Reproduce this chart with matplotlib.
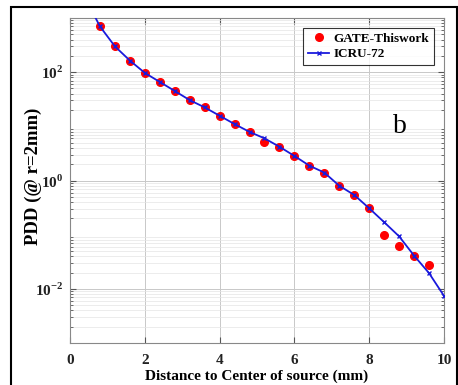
import matplotlib
matplotlib.use("Agg")
import matplotlib.pyplot as plt
from matplotlib.patches import Rectangle
from matplotlib.ticker import LogLocator, NullFormatter
import numpy as np

# Data
gate_x = [0.8, 1.2, 1.6, 2.0, 2.4, 2.8, 3.2, 3.6, 4.0, 4.4, 4.8, 5.2, 5.6, 6.0,
          6.4, 6.8, 7.2, 7.6, 8.0, 8.4, 8.8, 9.2, 9.6]
gate_y = [700, 300, 164, 97, 66, 45, 30.5, 22.4, 15.7, 11.0, 7.9, 5.2, 4.2, 2.84,
          1.88, 1.40, 0.80, 0.54, 0.307, 0.097, 0.061, 0.040, 0.0276]
icru_x = [0.6, 0.8, 1.2, 1.6, 2.0, 2.4, 2.8, 3.2, 3.6, 4.0, 4.4, 4.8, 5.2, 5.6,
          6.0, 6.4, 6.8, 7.2, 7.6, 8.0, 8.4, 8.8, 9.2, 9.6, 10.0]
icru_y = [1300, 700, 300, 164, 97, 66, 45, 30.5, 22.4, 15.7, 11.0, 7.9, 6.0, 4.2,
          2.84, 1.88, 1.40, 0.80, 0.54, 0.307, 0.17, 0.093, 0.041, 0.0195, 0.0074]
x_ticks = [0, 2, 4, 6, 8, 10]

W, H = 458, 385
fig = plt.figure(figsize=(W / 100, H / 100), dpi=100)
serif = ['Liberation Serif', 'DejaVu Serif']

# outer frame
fig.patches.append(Rectangle((11 / W, -0.05), (457 - 11) / W, (H - 7) / H + 0.05,
                             transform=fig.transFigure, fill=False,
                             edgecolor='black', linewidth=1.5))

ax = fig.add_axes([70 / W, 1 - 343 / H, (444 - 70) / W, (343 - 18) / H])
ax.set_yscale('log')
ax.set_xlim(0, 10)
ax.set_ylim(1e-3, 1e3)

ax.plot(icru_x, icru_y, color='#1a1adc', lw=1.3, marker='x', ms=3.5, mew=1.0,
        label='ICRU-72', zorder=3)
ax.plot(gate_x, gate_y, linestyle='none', marker='o', color='red', ms=5.5,
        label='GATE-Thiswork', zorder=2)

ax.set_xticks(x_ticks)
ax.set_yticks([1e-2, 1, 1e2])
ax.set_yticklabels(['10$^{\\mathregular{-2}}$', '10$^{\\mathregular{0}}$',
                    '10$^{\\mathregular{2}}$'])
ax.yaxis.set_minor_locator(LogLocator(base=10, subs=np.arange(2, 10), numticks=20))
ax.yaxis.set_minor_formatter(NullFormatter())
ax.grid(True, which='major', color='#c8c8c8', lw=0.7)
ax.grid(True, which='minor', axis='y', color='#e4e4e4', lw=0.5)
ax.tick_params(which='both', direction='in', top=True, right=True, colors='#555555',
               labelcolor='#222222')
ax.tick_params(which='major', length=4)
ax.tick_params(which='minor', length=2)
for s in ax.spines.values():
    s.set_color('#888888')
    s.set_linewidth(0.8)

for lab in ax.get_xticklabels() + ax.get_yticklabels():
    lab.set_fontfamily(serif)
    lab.set_fontweight('bold')
    lab.set_fontsize(11)
ax.tick_params(axis='x', pad=8)
ax.tick_params(axis='y', pad=5)

fig.text(257 / W, 1 - 376 / H, 'Distance to Center of source (mm)', fontfamily=serif,
         fontweight='bold', fontsize=11, ha='center', va='center')
fig.text(33 / W, 1 - 176 / H, 'PDD (@ r=2mm)', fontfamily=serif, fontweight='bold',
         fontsize=13.5, ha='center', va='center', rotation=90)

h, l = ax.get_legend_handles_labels()
leg = ax.legend(h[::-1], l[::-1], loc='upper right', bbox_to_anchor=(0.972, 0.97),
                borderaxespad=0,
                prop={'family': serif, 'weight': 'bold', 'size': 9.5},
                frameon=True, fancybox=False, edgecolor='black',
                handlelength=1.6, handletextpad=0.3, borderpad=0.35,
                labelspacing=0.25)
leg.get_frame().set_linewidth(0.8)

ax.text(0.883, 0.665, 'b', transform=ax.transAxes, fontfamily=serif, fontsize=20,
        ha='center', va='center')

fig.savefig('out.png', dpi=100)
